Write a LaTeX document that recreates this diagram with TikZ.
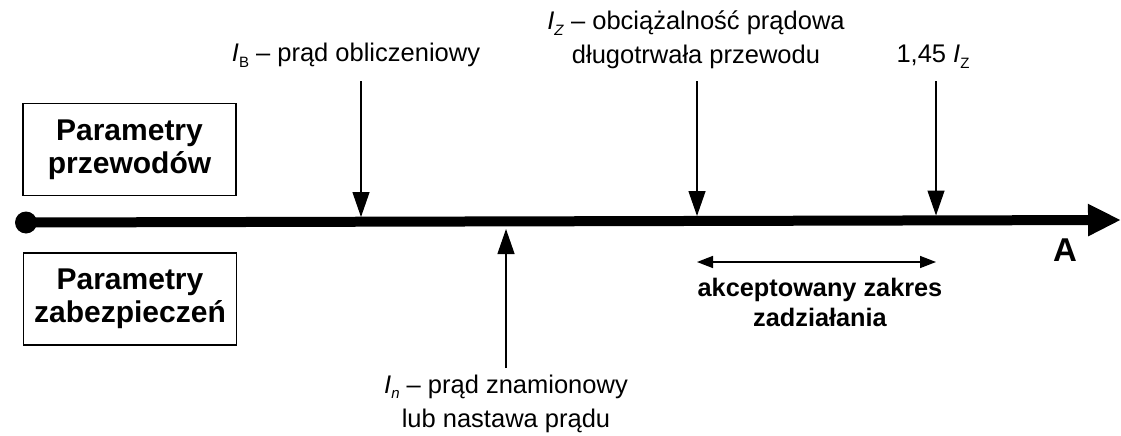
\documentclass[tikz,border=0pt]{standalone}
\usepackage{fontspec}
\setmainfont{Liberation Sans}
\usetikzlibrary{arrows.meta}
\newcommand{\lsub}[1]{\raisebox{-5.5pt}{\fontsize{15}{15}\selectfont #1}}
\begin{document}
\begin{tikzpicture}[x=1pt,y=-1pt,
  reg/.style={font=\fontsize{25.5}{34}\selectfont, inner sep=0pt, anchor=base},
  boldlbl/.style={font=\bfseries\fontsize{25.3}{30.5}\selectfont, inner sep=0pt, anchor=base},
  boxlbl/.style={draw, line width=1.3pt, minimum width=213pt, minimum height=92pt,
    font=\bfseries\fontsize{30}{33}\selectfont, align=center, inner sep=0pt},
  pointer/.style={line width=1.3pt, -{Triangle[length=25pt,width=17pt]}},
  spanarrow/.style={line width=1.5pt, {Triangle[length=16pt,width=12pt]}-{Triangle[length=16pt,width=12pt]}},
  axisline/.style={line width=10pt, -{Triangle[length=33pt,width=30pt]}}]
\useasboundingbox (0,0) rectangle (1121,436);

% boxes
\node[boxlbl] (bwire) at (129.5,149.5) {Parametry\\przewodów};
\node[boxlbl] (bprot) at (130,299) {Parametry\\zabezpieczeń};

% axis
\node[circle, fill, inner sep=0pt, minimum size=22pt] (origin) at (26,222.5) {};
\coordinate (axend) at (1121,220);
\draw[axisline] (origin.center) -- (axend);
\node[font=\bfseries\fontsize{33}{33}\selectfont, inner sep=0pt, anchor=base] (unit) at (1065,261) {A};

% labels above
\node[reg] (ib) at (356,62) {\textit{I}\lsub{B} – prąd obliczeniowy};
\node[reg] (iz) at (696,30) {\begin{tabular}[t]{@{}c@{}}\textit{I}\lsub{\textit{Z}} – obciążalność prądowa\\długotrwała przewodu\end{tabular}};
\node[reg] (iz145) at (933,63) {1,45 \textit{I}\lsub{Z}};

% label below
\node[reg] (in) at (506,393) {\begin{tabular}[t]{@{}c@{}}\textit{I}\lsub{\textit{n}} – prąd znamionowy\\lub nastawa prądu\end{tabular}};

% range label
\node[boldlbl] (rng) at (820,296) {\begin{tabular}[t]{@{}c@{}}akceptowany zakres\\zadziałania\end{tabular}};

% arrow endpoints
\coordinate (ibs) at (361,81);
\coordinate (ibt) at (361,217);
\coordinate (izs) at (697,81);
\coordinate (izt) at (697,216);
\coordinate (iz2s) at (936,81);
\coordinate (iz2t) at (936,215.5);
\coordinate (ins) at (506,368);
\coordinate (int) at (506,229);
\coordinate (r1) at (697,262);
\coordinate (r2) at (936,262);

\draw[pointer] (ibs) -- (ibt);
\draw[pointer] (izs) -- (izt);
\draw[pointer] (iz2s) -- (iz2t);
\draw[pointer] (ins) -- (int);
\draw[spanarrow] (r1) -- (r2);
\end{tikzpicture}
\end{document}
